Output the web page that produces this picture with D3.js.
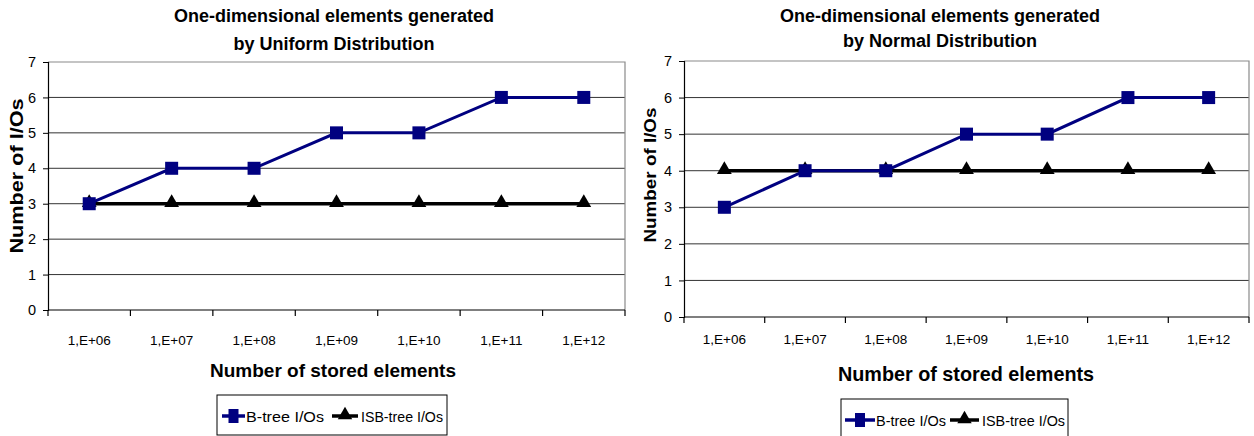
<!DOCTYPE html>
<html>
<head>
<meta charset="utf-8">
<script src="https://cdn.jsdelivr.net/npm/d3@7"></script>
<style>
	body { margin: 0; background: #fff; }
	svg text { font-family: "Liberation Sans", Arial, sans-serif; fill: #000; }
</style>
</head>
<body>
<div id="chart"></div>
<script>
var categories = ["1,E+06", "1,E+07", "1,E+08", "1,E+09", "1,E+10", "1,E+11", "1,E+12"];
var yTicks = [0, 1, 2, 3, 4, 5, 6, 7];
var uniformBtree = [3, 4, 4, 5, 5, 6, 6];
var uniformIsb = [3, 3, 3, 3, 3, 3, 3];
var normalBtree = [3, 4, 4, 5, 5, 6, 6];
var normalIsb = [4, 4, 4, 4, 4, 4, 4];
var seriesNames = ["B-tree I/Os", "ISB-tree I/Os"];
var uniformTitle = ["One-dimensional elements generated", "by Uniform Distribution"];
var normalTitle = ["One-dimensional elements generated", "by Normal Distribution"];
var yTitle = "Number of I/Os";
var xTitle = "Number of stored elements";

var navy = "#000080";

var svg = d3.select("#chart").append("svg")
	.attr("width", 1254).attr("height", 436);

function drawPanel(p, btree, isb, title) {
	var g = svg.append("g");
	var x = d3.scaleBand().domain(categories).range([p.x0, p.x1]);
	var y = d3.scaleLinear().domain([0, 7]).range([p.yBot, p.yTop]);
	var cx = function (d, i) { return x(categories[i]) + x.bandwidth() / 2; };

	// gridlines
	g.selectAll(".grid").data(yTicks.slice(1, 7)).enter().append("line")
		.attr("x1", p.x0).attr("x2", p.x1)
		.attr("y1", function (d) { return y(d); }).attr("y2", function (d) { return y(d); })
		.attr("stroke", "#333").attr("stroke-width", 1);

	// top and right border
	g.append("path")
		.attr("d", "M" + p.x0 + "," + y(7) + "H" + p.x1 + "V" + y(0))
		.attr("fill", "none").attr("stroke", "#8a8a8a").attr("stroke-width", 1.2);

	// y axis
	var yAxis = g.append("g").attr("transform", "translate(" + p.x0 + ",0)")
		.call(d3.axisLeft(y).tickValues(yTicks).tickSize(5).tickPadding(7).tickFormat(d3.format("d")));
	yAxis.select(".domain").attr("stroke", "#000").attr("stroke-width", 1.2);
	yAxis.selectAll("text").style("font-size", "14.5px").attr("fill", "#000");

	// x axis: line, ticks at band edges, labels at band centres
	g.append("line").attr("x1", p.x0).attr("x2", p.x1)
		.attr("y1", y(0)).attr("y2", y(0)).attr("stroke", "#000").attr("stroke-width", 1.2);
	var edges = categories.map(function (c) { return x(c); }).concat([p.x1]);
	g.selectAll(".xtick").data(edges).enter().append("line")
		.attr("x1", function (d) { return d; }).attr("x2", function (d) { return d; })
		.attr("y1", y(0)).attr("y2", y(0) + 6)
		.attr("stroke", "#000").attr("stroke-width", 1.2);
	g.selectAll(".xlabel").data(categories).enter().append("text")
		.attr("x", function (d) { return x(d) + x.bandwidth() / 2; })
		.attr("y", p.tickY)
		.attr("text-anchor", "middle").style("font-size", "13.5px")
		.text(function (d) { return d; });

	// ISB-tree line + triangles
	var line = d3.line().x(cx).y(function (d) { return y(d); });
	g.append("path").datum(isb).attr("d", line)
		.attr("fill", "none").attr("stroke", "#000").attr("stroke-width", 3.5);
	g.selectAll(".tri").data(isb).enter().append("path")
		.attr("d", d3.symbol().type(d3.symbolTriangle).size(95))
		.attr("transform", function (d, i) { return "translate(" + cx(d, i) + "," + (y(d) - 1) + ")"; })
		.attr("fill", "#000");

	// B-tree line + squares
	g.append("path").datum(btree).attr("d", line)
		.attr("fill", "none").attr("stroke", navy).attr("stroke-width", 3);
	g.selectAll(".sq").data(btree).enter().append("rect")
		.attr("x", function (d, i) { return cx(d, i) - 6.5; })
		.attr("y", function (d) { return y(d) - 6.5; })
		.attr("width", 13).attr("height", 13)
		.attr("fill", navy);

	// titles
	g.selectAll(".title").data(title).enter().append("text")
		.attr("x", p.titleX).attr("y", function (d, i) { return p.titleY[i]; })
		.attr("text-anchor", "middle").style("font-size", "18px").style("font-weight", "bold")
		.text(function (d) { return d; });

	g.append("text")
		.attr("transform", "translate(" + p.ylabX + "," + p.ylabY + ") rotate(-90)")
		.attr("text-anchor", "middle").style("font-size", p.ylabSize).style("font-weight", "bold")
		.attr("textLength", p.ylabLen).attr("lengthAdjust", "spacingAndGlyphs")
		.text(yTitle);

	g.append("text").attr("x", p.xtitleX).attr("y", p.xtitleY)
		.attr("text-anchor", "middle").style("font-size", p.xtitleSize).style("font-weight", "bold")
		.text(xTitle);

	// legend
	var L = p.legend;
	var lg = g.append("g");
	lg.append("rect").attr("x", L.x).attr("y", L.y).attr("width", L.w).attr("height", L.h)
		.attr("fill", "#fff").attr("stroke", "#000").attr("stroke-width", 1);
	var ly = L.y + L.h / 2 + 1;
	lg.append("line").attr("x1", L.s1[0]).attr("x2", L.s1[1]).attr("y1", ly).attr("y2", ly)
		.attr("stroke", navy).attr("stroke-width", 3.5);
	lg.append("rect").attr("x", (L.s1[0] + L.s1[1]) / 2 - 5).attr("y", ly - 7)
		.attr("width", 10).attr("height", 14).attr("fill", navy);
	lg.append("text").attr("x", L.t1).attr("y", ly + 5.5).style("font-size", "15px")
		.attr("textLength", L.w1).attr("lengthAdjust", "spacingAndGlyphs")
		.text(seriesNames[0]);
	lg.append("line").attr("x1", L.s2[0]).attr("x2", L.s2[1]).attr("y1", ly).attr("y2", ly)
		.attr("stroke", "#000").attr("stroke-width", 3.5);
	lg.append("path").attr("d", d3.symbol().type(d3.symbolTriangle).size(90))
		.attr("transform", "translate(" + (L.s2[0] + L.s2[1]) / 2 + "," + (ly - 1) + ")").attr("fill", "#000");
	lg.append("text").attr("x", L.t2).attr("y", ly + 5.5).style("font-size", "15px")
		.attr("textLength", L.w2).attr("lengthAdjust", "spacingAndGlyphs")
		.text(seriesNames[1]);
}

drawPanel({
	x0: 48, x1: 625, yTop: 62, yBot: 310,
	titleX: 334, titleY: [22, 50],
	ylabX: 23, ylabY: 176, ylabSize: "19px", ylabLen: 155,
	tickY: 345, xtitleX: 333, xtitleY: 377, xtitleSize: "19px",
	legend: { x: 217, y: 395, w: 230, h: 40, s1: [222, 245], t1: 246, w1: 78, s2: [332, 358], t2: 361, w2: 82 }
}, uniformBtree, uniformIsb, uniformTitle);

drawPanel({
	x0: 684, x1: 1249, yTop: 61, yBot: 317,
	titleX: 940, titleY: [22, 47],
	ylabX: 656, ylabY: 175, ylabSize: "17px", ylabLen: 135,
	tickY: 344, xtitleX: 966, xtitleY: 381, xtitleSize: "19.8px",
	legend: { x: 841, y: 399, w: 227, h: 40, s1: [845, 875], t1: 876, w1: 70, s2: [950, 979], t2: 982, w2: 83 }
}, normalBtree, normalIsb, normalTitle);
</script>
</body>
</html>
